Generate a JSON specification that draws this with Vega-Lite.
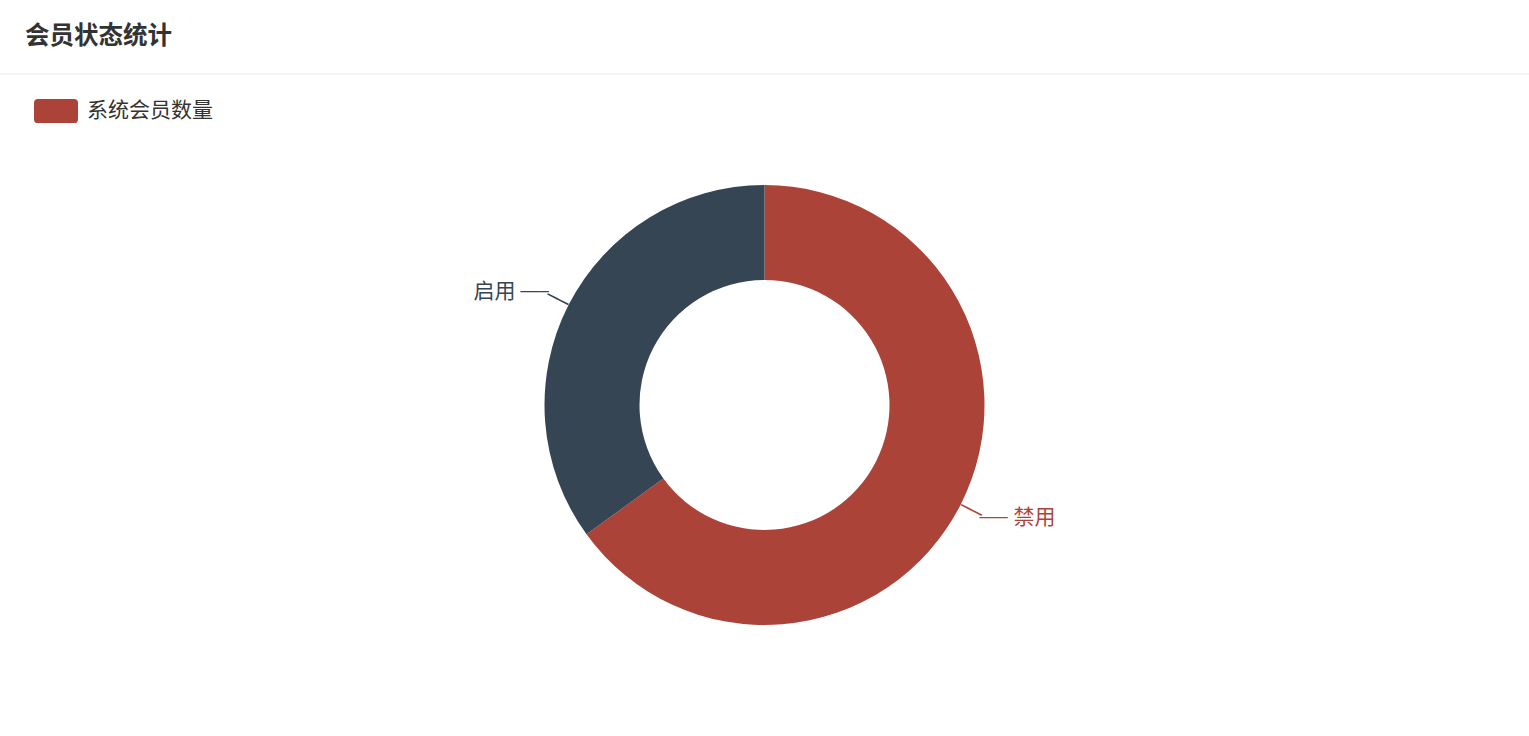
{
  "$schema": "https://vega.github.io/schema/vega-lite/v6.json",
  "width": 1529,
  "height": 662,
  "autosize": {"type": "none"},
  "padding": {"top": 74, "left": 0, "right": 0, "bottom": 0},
  "background": "#ffffff",
  "config": {"view": {"stroke": null}},
  "title": {
    "text": "会员状态统计",
    "anchor": "start",
    "frame": "group",
    "dx": 25,
    "offset": 12,
    "baseline": "middle",
    "fontSize": 24.5,
    "fontWeight": "bold",
    "font": "Noto Sans CJK SC",
    "color": "#333333"
  },
  "datasets": {
    "members": [
      {"status": "禁用", "value": 13},
      {"status": "启用", "value": 7}
    ],
    "series": [{"series": "系统会员数量"}]
  },
  "layer": [
    {
      "data": {"name": "series"},
      "mark": {"type": "rule", "stroke": "#e8e8e8", "strokeWidth": 1},
      "encoding": {"y": {"value": 0}}
    },
    {
      "data": {"name": "series"},
      "mark": {"type": "text", "fontSize": 1},
      "encoding": {
        "text": {"value": ""},
        "fill": {
          "field": "series",
          "type": "nominal",
          "scale": {"range": ["#ac4339"]},
          "legend": {
            "orient": "none",
            "legendX": 34,
            "legendY": 15,
            "title": null,
            "padding": 0,
            "symbolType": "M-0.82,-0.55L0.82,-0.55Q1,-0.55 1,-0.37L1,0.37Q1,0.55 0.82,0.55L-0.82,0.55Q-1,0.55 -1,0.37L-1,-0.37Q-1,-0.55 -0.82,-0.55Z",
            "symbolSize": 1936,
            "symbolStrokeWidth": 0,
            "symbolOpacity": 1,
            "labelFontSize": 21,
            "labelFont": "Noto Sans CJK SC",
            "labelColor": "#333333",
            "labelOffset": 9
          }
        }
      }
    },
    {
      "data": {"name": "members"},
      "mark": {"type": "arc", "outerRadius": 220, "innerRadius": 125},
      "encoding": {
        "theta": {"field": "value", "type": "quantitative", "stack": true},
        "order": {"field": "value", "sort": "descending"},
        "color": {
          "field": "status",
          "type": "nominal",
          "scale": {"domain": ["禁用", "启用"], "range": ["#ac4339", "#354554"]},
          "legend": null
        }
      }
    },
    {
      "data": {"name": "members"},
      "mark": {
        "type": "text",
        "radius": 232,
        "angle": 27,
        "align": "center",
        "baseline": "middle",
        "font": "DejaVu Sans Mono",
        "fontSize": 19
      },
      "encoding": {
        "theta": {"field": "value", "type": "quantitative", "stack": true},
        "order": {"field": "value", "sort": "descending"},
        "text": {"value": "──"},
        "color": {"field": "status", "type": "nominal", "legend": null}
      }
    },
    {
      "data": {"name": "members"},
      "mark": {
        "type": "text",
        "radius": 248,
        "align": "center",
        "baseline": "middle",
        "font": "DejaVu Sans Mono",
        "fontSize": 15.5,
        "dx": {"expr": "datum.status == '禁用' ? 8 : -9"}
      },
      "encoding": {
        "theta": {"field": "value", "type": "quantitative", "stack": true},
        "order": {"field": "value", "sort": "descending"},
        "text": {"value": "───"},
        "color": {"field": "status", "type": "nominal", "legend": null}
      }
    },
    {
      "data": {"name": "members"},
      "mark": {
        "type": "text",
        "radius": 248,
        "baseline": "middle",
        "font": "Noto Sans CJK SC",
        "fontSize": 21,
        "align": {"expr": "datum.status == '禁用' ? 'left' : 'right'"},
        "dx": {"expr": "datum.status == '禁用' ? 28 : -28"}
      },
      "encoding": {
        "theta": {"field": "value", "type": "quantitative", "stack": true},
        "order": {"field": "value", "sort": "descending"},
        "text": {"field": "status", "type": "nominal"},
        "color": {"field": "status", "type": "nominal", "legend": null}
      }
    }
  ]
}
